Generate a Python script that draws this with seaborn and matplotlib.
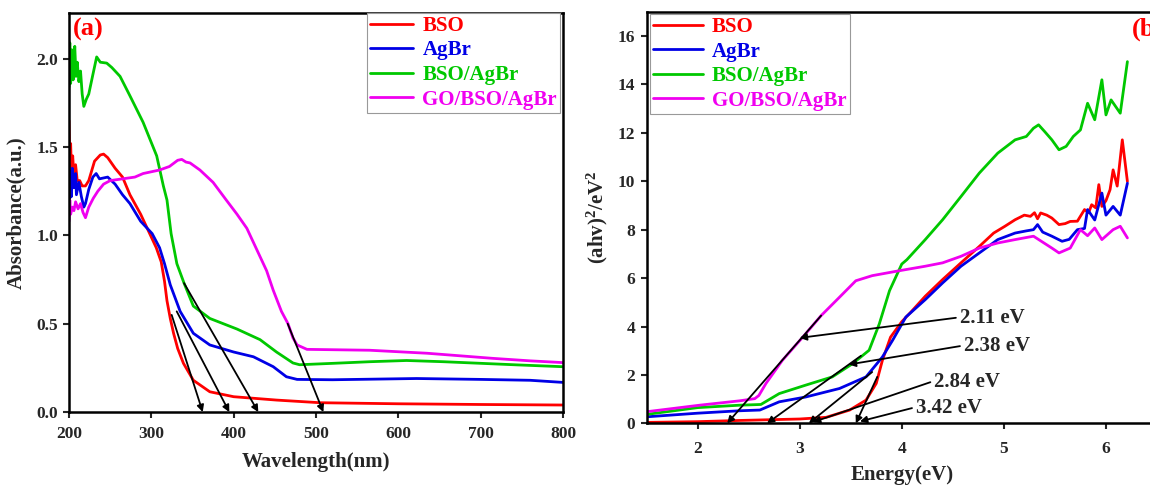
import pandas as pd
import matplotlib
matplotlib.use('Agg')
import matplotlib.pyplot as plt
import seaborn as sns

# Style: plain white, serif bold like the original figure
sns.set_style('ticks')
plt.rcParams['font.family'] = ['Liberation Serif', 'DejaVu Serif']
plt.rcParams['font.weight'] = 'bold'
plt.rcParams['axes.labelweight'] = 'bold'
plt.rcParams['mathtext.fontset'] = 'custom'
plt.rcParams['mathtext.rm'] = 'Liberation Serif:bold'
plt.rcParams['mathtext.it'] = 'Liberation Serif:bold'
plt.rcParams['mathtext.bf'] = 'Liberation Serif:bold'

samples = ['BSO', 'AgBr', 'BSO/AgBr', 'GO/BSO/AgBr']
colors = ['#ff0000', '#0000e6', '#00c800', '#f000f0']

# (a) UV-vis absorbance
wl_bso = [200, 201, 202, 203, 204.5, 206, 208, 210, 213, 216, 220, 224, 231, 238, 242, 247, 256, 265, 274,
          287, 296, 306, 312, 316, 319, 323, 327, 332, 339, 351, 371, 400, 452, 505, 600, 700, 800]
abs_bso = [1.65, 1.42, 1.52, 1.36, 1.45, 1.33, 1.40, 1.31, 1.31, 1.28, 1.28, 1.31, 1.42, 1.455, 1.46, 1.44,
           1.38, 1.33, 1.23, 1.12, 1.03, 0.93, 0.85, 0.74, 0.63, 0.53, 0.446, 0.36, 0.276, 0.18, 0.115,
           0.087, 0.068, 0.053, 0.047, 0.043, 0.04]
wl_agbr = [200, 201, 202, 203, 204, 206, 208, 209, 212, 215, 218, 220, 224, 229, 233, 237, 247, 256, 265,
           274, 287, 301, 310, 316, 323, 335, 351, 371, 400, 424, 448, 464, 477, 520, 622, 700, 760, 800]
abs_agbr = [1.40, 1.21, 1.36, 1.22, 1.38, 1.27, 1.35, 1.23, 1.30, 1.22, 1.16, 1.18, 1.26, 1.33, 1.35, 1.32,
            1.33, 1.29, 1.23, 1.18, 1.08, 1.01, 0.93, 0.84, 0.72, 0.57, 0.446, 0.38, 0.34, 0.313, 0.257,
            0.20, 0.185, 0.183, 0.19, 0.185, 0.18, 0.168]
wl_comp = [200, 201, 202, 203.5, 205, 207, 208.5, 210, 212, 214, 216, 218, 221, 224, 229, 233.6, 238, 245.8,
           252, 262, 274, 290, 306.5, 314.6, 319, 324, 331, 339.7, 351, 371, 404, 432, 452, 472, 480,
           521, 565, 610, 655, 700, 745, 799]
abs_comp = [1.84, 2.09, 1.86, 2.05, 1.88, 2.07, 1.90, 1.98, 1.87, 1.93, 1.80, 1.73, 1.77, 1.80, 1.91, 2.01,
            1.98, 1.975, 1.95, 1.90, 1.79, 1.64, 1.45, 1.28, 1.20, 1.01, 0.84, 0.73, 0.60, 0.53, 0.47,
            0.41, 0.34, 0.278, 0.268, 0.276, 0.285, 0.292, 0.285, 0.276, 0.267, 0.257]
wl_go = [200, 201, 202, 204, 206, 208, 211, 214, 217, 220, 224, 229.5, 235, 242, 250, 265, 280, 290, 300,
         310, 322, 332, 337, 342, 347, 359, 375, 391, 404, 416, 428, 440, 448, 458, 466, 472, 477, 489,
         565, 635, 715, 760, 800]
abs_go = [1.08, 1.20, 1.12, 1.16, 1.14, 1.19, 1.15, 1.18, 1.13, 1.10, 1.16, 1.21, 1.25, 1.29, 1.31, 1.32,
          1.33, 1.35, 1.36, 1.37, 1.39, 1.425, 1.43, 1.415, 1.41, 1.37, 1.30, 1.20, 1.12, 1.04, 0.92, 0.80,
          0.69, 0.57, 0.50, 0.42, 0.38, 0.355, 0.35, 0.333, 0.304, 0.29, 0.28]

# (a) tangent lines: start (x, y) -> end on the axis (x, y)
tan_a_start = [(324.7, 0.55), (330.8, 0.57), (339.7, 0.73), (465.6, 0.50)]
tan_a_end = [(362.4, 0.0), (394.7, 0.0), (429.9, 0.0), (508.9, 0.0)]

# (b) Tauc plot
e_bso = [1.5, 2.0, 2.41, 3.0, 3.26, 3.49, 3.65, 3.75, 3.81, 3.89, 4.0, 4.09, 4.23, 4.40, 4.58, 4.76, 4.90,
         5.01, 5.11, 5.20, 5.26, 5.30, 5.33, 5.36, 5.42, 5.47, 5.54, 5.60, 5.65, 5.72, 5.79, 5.83, 5.86,
         5.90, 5.93, 5.96, 6.0, 6.04, 6.07, 6.11, 6.16, 6.21]
t_bso = [0.04, 0.07, 0.12, 0.18, 0.25, 0.55, 0.96, 1.65, 2.6, 3.56, 4.2, 4.6, 5.25, 5.94, 6.63, 7.31, 7.86,
         8.14, 8.41, 8.6, 8.55, 8.7, 8.45, 8.69, 8.6, 8.48, 8.21, 8.25, 8.34, 8.35, 8.83, 8.7, 9.03, 8.9,
         9.86, 8.96, 9.2, 9.65, 10.47, 9.8, 11.71, 9.99]
e_agbr = [1.5, 2.0, 2.41, 2.61, 2.8, 3.06, 3.39, 3.65, 3.81, 3.91, 4.04, 4.23, 4.40, 4.58, 4.76, 4.94, 5.11,
          5.22, 5.29, 5.33, 5.38, 5.47, 5.57, 5.64, 5.68, 5.72, 5.79, 5.82, 5.89, 5.96, 6.0, 6.07, 6.14, 6.21]
t_agbr = [0.27, 0.42, 0.52, 0.55, 0.89, 1.09, 1.44, 1.92, 2.74, 3.43, 4.39, 5.11, 5.80, 6.49, 7.04, 7.59,
          7.86, 7.95, 8.0, 8.21, 7.9, 7.73, 7.52, 7.6, 7.8, 8.0, 8.05, 8.83, 8.4, 9.51, 8.6, 8.96, 8.6, 9.92]
e_comp = [1.5, 2.0, 2.41, 2.62, 2.80, 3.06, 3.32, 3.52, 3.68, 3.78, 3.88, 4.0, 4.05, 4.23, 4.40, 4.58, 4.76,
          4.94, 5.11, 5.22, 5.29, 5.34, 5.40, 5.47, 5.54, 5.61, 5.68, 5.75, 5.82, 5.89, 5.96, 6.0, 6.05,
          6.14, 6.21]
t_comp = [0.37, 0.65, 0.75, 0.78, 1.23, 1.58, 1.92, 2.47, 3.02, 4.11, 5.48, 6.58, 6.76, 7.59, 8.41, 9.37,
          10.34, 11.16, 11.71, 11.85, 12.19, 12.33, 12.05, 11.71, 11.30, 11.44, 11.85, 12.12, 13.22, 12.54,
          14.19, 12.74, 13.36, 12.81, 14.94]
e_go = [1.5, 2.02, 2.41, 2.56, 2.60, 2.67, 2.83, 3.03, 3.21, 3.39, 3.55, 3.71, 3.97, 4.23, 4.40, 4.58, 4.76,
        4.94, 5.11, 5.29, 5.47, 5.54, 5.65, 5.75, 5.82, 5.89, 5.96, 6.07, 6.14, 6.21]
t_go = [0.48, 0.75, 0.93, 1.02, 1.15, 1.65, 2.6, 3.56, 4.45, 5.21, 5.89, 6.1, 6.3, 6.49, 6.63, 6.9, 7.24,
        7.45, 7.59, 7.73, 7.24, 7.04, 7.24, 8.0, 7.75, 8.07, 7.59, 8.0, 8.14, 7.66]

# (b) tangent lines and labelled pointer arrows
tan_b_start = [(3.21, 4.45), (3.60, 2.79), (3.71, 2.12), (3.76, 1.92)]
tan_b_end = [(2.29, 0.0), (2.68, 0.0), (3.09, 0.0), (3.55, 0.0)]
gap_labels = ['2.11 eV', '2.38 eV', '2.84 eV', '3.42 eV']
gap_from = [(4.53, 4.36), (4.57, 3.19), (4.28, 1.70), (4.10, 0.63)]
gap_to = [(3.00, 3.53), (3.48, 2.43), (3.13, 0.05), (3.59, 0.08)]

df_a = pd.concat([
    pd.DataFrame({'x': x, 'y': y, 'sample': s})
    for x, y, s in zip([wl_bso, wl_agbr, wl_comp, wl_go], [abs_bso, abs_agbr, abs_comp, abs_go], samples)
])
df_b = pd.concat([
    pd.DataFrame({'x': x, 'y': y, 'sample': s})
    for x, y, s in zip([e_bso, e_agbr, e_comp, e_go], [t_bso, t_agbr, t_comp, t_go], samples)
])

fig = plt.figure(figsize=(11.5, 4.9), dpi=100)
ax1 = fig.add_axes([0.060, 0.159, 0.4296, 0.815])
ax2 = fig.add_axes([0.5622, 0.136, 0.4439, 0.840])

arrow_kw = dict(arrowstyle='-|>', color='black', lw=1.3, mutation_scale=10, shrinkA=0, shrinkB=0)


def style_axes(ax, xpad):
    for sp in ax.spines.values():
        sp.set_linewidth(1.8)
        sp.set_color('black')
    ax.tick_params(direction='out', length=4.5, width=1.5, labelsize=12.5, top=False, right=False)
    ax.tick_params(axis='x', pad=xpad)
    for lab in ax.get_xticklabels() + ax.get_yticklabels():
        lab.set_fontweight('bold')


def add_legend(ax, **kw):
    leg = ax.legend(handles=ax.get_lines()[:4], labels=samples, prop={'size': 15, 'weight': 'bold'},
                    frameon=True, fancybox=False, edgecolor='#999999', framealpha=1, labelspacing=0.22,
                    handletextpad=0.45, borderpad=0.15, borderaxespad=0, **kw)
    leg.get_frame().set_linewidth(0.8)
    for txt, c in zip(leg.get_texts(), colors):
        txt.set_color(c)


# ---- panel (a)
sns.lineplot(data=df_a, x='x', y='y', hue='sample', hue_order=samples, palette=colors,
             estimator=None, sort=False, linewidth=2.0, legend=False, ax=ax1)
for (x0, y0), (x1, y1) in zip(tan_a_start, tan_a_end):
    ax1.annotate('', xy=(x1, y1), xytext=(x0, y0), arrowprops=arrow_kw, annotation_clip=False)
ax1.set_xlim(200, 800)
ax1.set_ylim(0, 2.26)
ax1.set_xticks(range(200, 801, 100))
ax1.set_yticks([0.0, 0.5, 1.0, 1.5, 2.0])
ax1.set_yticklabels(['0.0', '0.5', '1.0', '1.5', '2.0'])
ax1.set_xlabel('Wavelength(nm)', fontsize=15, fontweight='bold', labelpad=7)
ax1.set_ylabel('Absorbance(a.u.)', fontsize=15, fontweight='bold', labelpad=7)
style_axes(ax1, 5.5)
add_legend(ax1, loc='upper right', bbox_to_anchor=(0.994, 1.0), handlelength=2.05)
ax1.text(0.008, 0.958, '(a)', transform=ax1.transAxes, color='#ff0000', fontsize=19,
         fontweight='bold', ha='left', va='center')

# ---- panel (b)
sns.lineplot(data=df_b, x='x', y='y', hue='sample', hue_order=samples, palette=colors,
             estimator=None, sort=False, linewidth=2.0, legend=False, ax=ax2)
for (x0, y0), (x1, y1) in zip(tan_b_start, tan_b_end):
    ax2.annotate('', xy=(x1, y1), xytext=(x0, y0), arrowprops=arrow_kw, annotation_clip=False)
for lab, (x0, y0), (x1, y1) in zip(gap_labels, gap_from, gap_to):
    ax2.annotate('', xy=(x1, y1), xytext=(x0, y0), arrowprops=arrow_kw)
    ax2.text(x0 + 0.04, y0, lab, fontsize=15, fontweight='bold', ha='left', va='center')
ax2.set_xlim(1.5, 6.5)
ax2.set_ylim(0, 17)
ax2.set_xticks([2, 3, 4, 5, 6])
ax2.set_yticks(range(0, 17, 2))
ax2.set_xlabel('Energy(eV)', fontsize=15, fontweight='bold', labelpad=6)
ax2.set_ylabel(r'(ahv)$^{2}$/eV$^{2}$', fontsize=15, fontweight='bold', labelpad=6)
style_axes(ax2, 8)
add_legend(ax2, loc='upper left', bbox_to_anchor=(0.006, 0.995), handlelength=2.4)
ax2.text(0.951, 0.958, '(b)', transform=ax2.transAxes, color='#ff0000', fontsize=19,
         fontweight='bold', ha='left', va='center')

fig.savefig('out.png', dpi=100)
